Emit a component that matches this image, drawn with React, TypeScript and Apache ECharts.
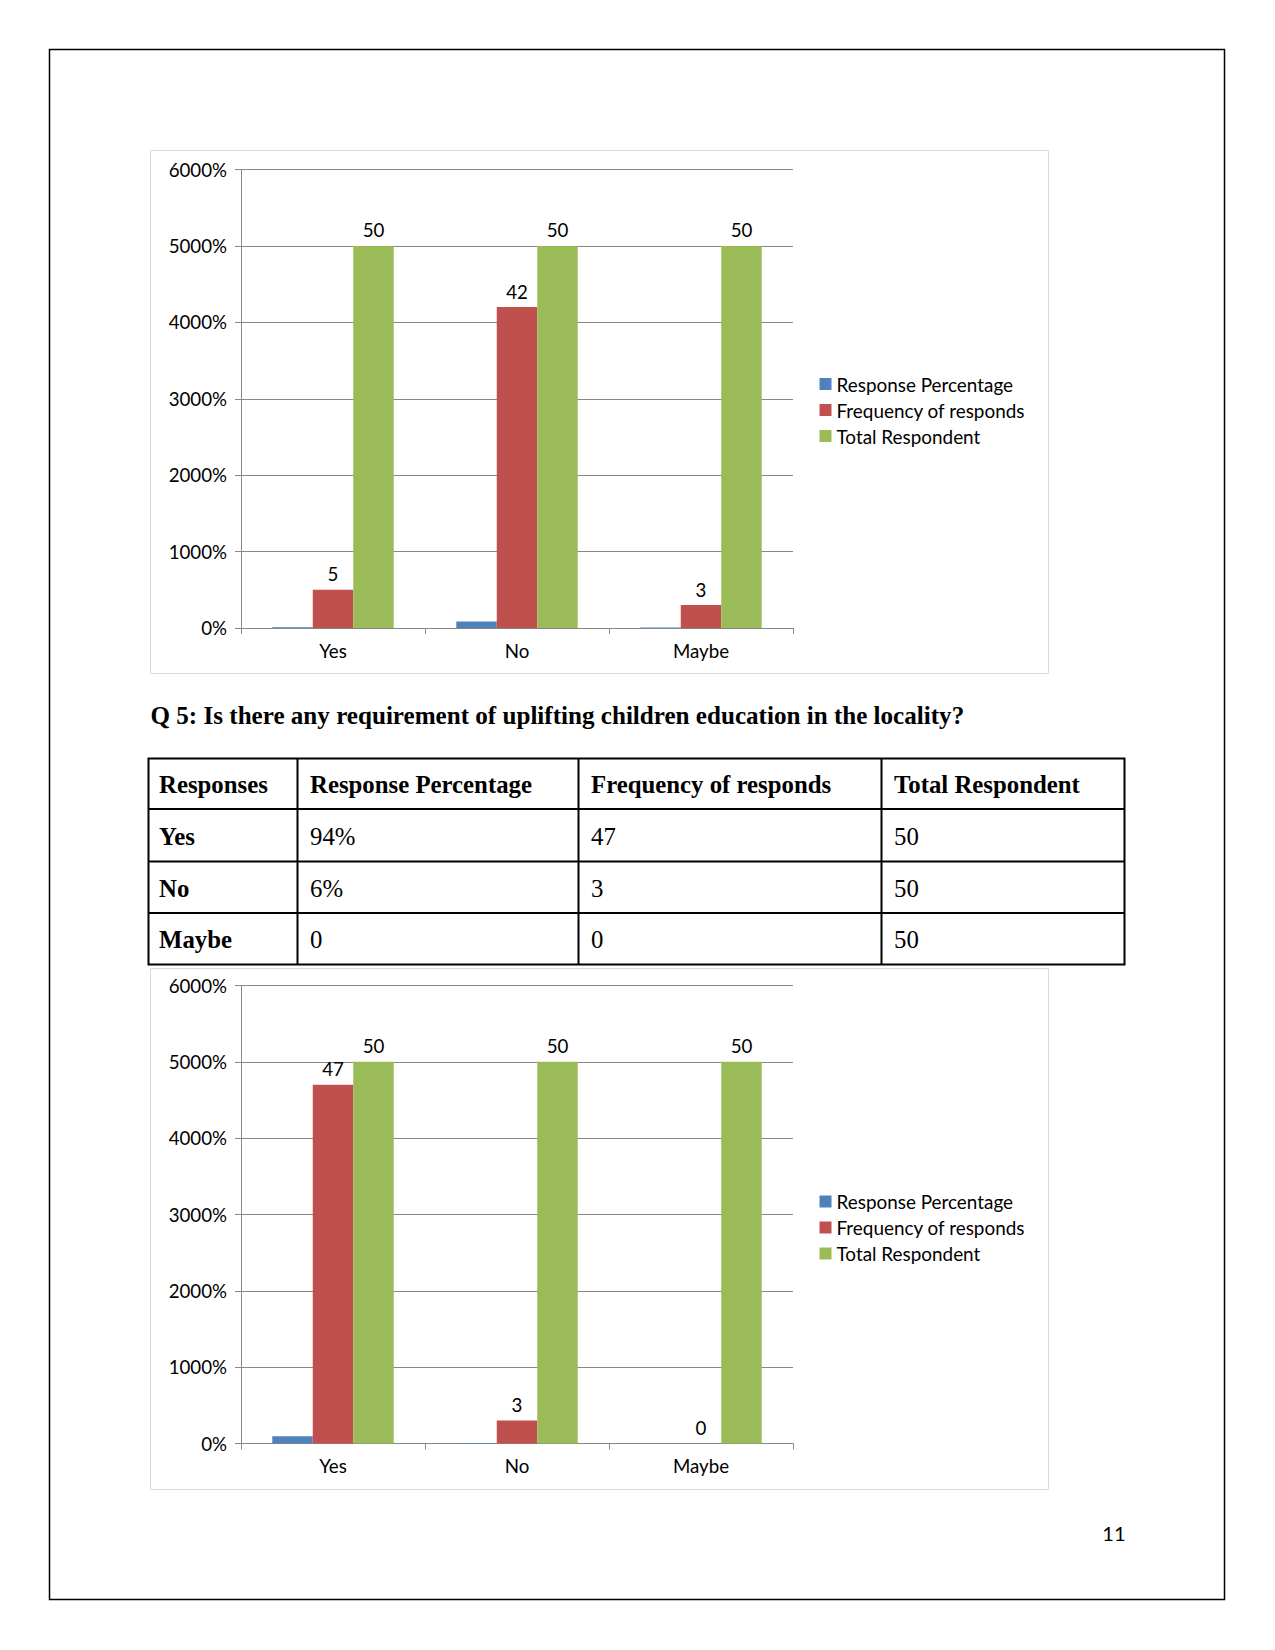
import React, { useEffect, useRef } from "react";
import * as echarts from "echarts";

const categories = ["Yes", "No", "Maybe"];
const seriesNames = ["Response Percentage", "Frequency of responds", "Total Respondent"];

// Chart 1 (previous question)
const q4Percentage = [0.1, 0.84, 0.06];
const q4Frequency = [5, 42, 3];
const q4Total = [50, 50, 50];

// Chart 2 (Q5)
const q5Percentage = [0.94, 0.06, 0];
const q5Frequency = [47, 3, 0];
const q5Total = [50, 50, 50];

const yMin = 0;
const yMax = 60;
const yInterval = 10;

const questionTitle = "Q 5: Is there any requirement of uplifting children education in the locality?";
const tableHeaders = ["Responses", "Response Percentage", "Frequency of responds", "Total Respondent"];
const tableRows = [
  ["Yes", "94%", "47", "50"],
  ["No", "6%", "3", "50"],
  ["Maybe", "0", "0", "50"],
];
const pageNumber = "11";

const COLORS = ["#4F81BD", "#C0504D", "#9BBB59"];
const AXIS_GRAY = "#878787";
const FONT = "Lato";
const FS = 18.7;

export default function App() {
  const ref = useRef<HTMLDivElement>(null);

  useEffect(() => {
    if (!ref.current) return;
    const chart = echarts.init(ref.current, null, { renderer: "svg" });

    const grids = [
      { left: 241, top: 169.5, width: 552, height: 458.5 },
      { left: 241, top: 985.5, width: 552, height: 458 },
    ];

    const xAxes = grids.map((_, i) => ({
      type: "category",
      gridIndex: i,
      data: categories,
      axisLine: { lineStyle: { color: AXIS_GRAY, width: 1 } },
      axisTick: { show: true, length: 6, lineStyle: { color: AXIS_GRAY } },
      axisLabel: { color: "#000", fontFamily: FONT, fontSize: FS, margin: 13 },
      splitLine: { show: false },
    }));

    const yAxes = grids.map((_, i) => ({
      type: "value",
      gridIndex: i,
      min: yMin,
      max: yMax,
      interval: yInterval,
      axisLine: { show: true, lineStyle: { color: AXIS_GRAY, width: 1 } },
      axisTick: { show: true, length: 6, lineStyle: { color: AXIS_GRAY } },
      splitLine: { show: true, lineStyle: { color: AXIS_GRAY, width: 1 } },
      axisLabel: {
        color: "#000",
        fontFamily: FONT,
        fontSize: FS,
        margin: 14,
        formatter: (v: number) => Math.round(v * 100) + "%",
      },
    }));

    const datasets = [
      [q4Percentage, q4Frequency, q4Total],
      [q5Percentage, q5Frequency, q5Total],
    ];

    const series: any[] = [];
    datasets.forEach((set, gi) => {
      set.forEach((vals, si) => {
        series.push({
          type: "bar",
          name: seriesNames[si],
          xAxisIndex: gi,
          yAxisIndex: gi,
          data: vals,
          barGap: "0%",
          barCategoryGap: "34%",
          itemStyle: { color: COLORS[si] },
          label: {
            show: si > 0,
            position: "top",
            distance: 6,
            color: "#000",
            fontFamily: FONT,
            fontSize: FS,
          },
        });
      });
    });

    const legends = [369.5, 1187].map((top) => ({
      orient: "vertical",
      left: 814.5,
      top,
      itemWidth: 12,
      itemHeight: 12,
      itemGap: 7,
      icon: "rect",
      data: seriesNames,
      textStyle: { color: "#000", fontFamily: FONT, fontSize: 18.9 },
    }));

    // Table geometry
    const tLeft = 148.5;
    const tRight = 1124.5;
    const rowYs = [758.5, 809, 861.5, 913, 964.5];
    const colXs = [148.5, 297.5, 578.5, 881.5];
    const textPad = [10.5, 12.5, 12.5, 12.5];
    const serif = "Liberation Serif";
    const TFS = 24.8;

    const graphic: any[] = [];
    // Page border
    graphic.push({
      type: "rect",
      shape: { x: 49.5, y: 49.5, width: 1175, height: 1550 },
      style: { fill: "none", stroke: "#000", lineWidth: 1.5 },
      silent: true,
      z: -10,
    });
    // Chart frames
    graphic.push({
      type: "rect",
      shape: { x: 150.5, y: 150.5, width: 898, height: 523 },
      style: { fill: "none", stroke: "#d9d9d9", lineWidth: 1 },
      silent: true,
      z: -10,
    });
    graphic.push({
      type: "rect",
      shape: { x: 150.5, y: 968.5, width: 898, height: 521 },
      style: { fill: "none", stroke: "#d9d9d9", lineWidth: 1 },
      silent: true,
      z: -10,
    });
    // Title
    graphic.push({
      type: "text",
      x: 150.5,
      y: 715,
      style: {
        text: questionTitle,
        fill: "#000",
        font: `bold 25.1px "${serif}"`,
        textAlign: "left",
        textVerticalAlign: "middle",
      },
    });
    // Table lines
    graphic.push({
      type: "rect",
      shape: { x: tLeft, y: rowYs[0], width: tRight - tLeft, height: rowYs[4] - rowYs[0] },
      style: { fill: "none", stroke: "#000", lineWidth: 2 },
      silent: true,
    });
    for (let r = 1; r < 4; r++) {
      graphic.push({
        type: "line",
        shape: { x1: tLeft, y1: rowYs[r], x2: tRight, y2: rowYs[r] },
        style: { stroke: "#000", lineWidth: 2 },
        silent: true,
      });
    }
    for (let c = 1; c < 4; c++) {
      graphic.push({
        type: "line",
        shape: { x1: colXs[c], y1: rowYs[0], x2: colXs[c], y2: rowYs[4] },
        style: { stroke: "#000", lineWidth: 2 },
        silent: true,
      });
    }
    const allRows = [tableHeaders, ...tableRows];
    allRows.forEach((row, r) => {
      const cy = (rowYs[r] + rowYs[r + 1]) / 2 + 1;
      row.forEach((txt, c) => {
        const bold = r === 0 || c === 0;
        graphic.push({
          type: "text",
          x: colXs[c] + textPad[c],
          y: cy,
          style: {
            text: txt,
            fill: "#000",
            font: `${bold ? "bold " : ""}${TFS}px "${serif}"`,
            textAlign: "left",
            textVerticalAlign: "middle",
          },
        });
      });
    });
    // Page number
    graphic.push({
      type: "text",
      x: 1125.5,
      y: 1533,
      style: {
        text: pageNumber,
        fill: "#000",
        font: `20px ${FONT}`,
        textAlign: "right",
        textVerticalAlign: "middle",
      },
    });

    chart.setOption({
      animation: false,
      backgroundColor: "#fff",
      textStyle: { fontFamily: FONT },
      grid: grids,
      xAxis: xAxes,
      yAxis: yAxes,
      legend: legends,
      series,
      graphic,
    });

    return () => chart.dispose();
  }, []);

  return (
    <div
      ref={ref}
      style={{ position: "absolute", left: 0, top: 0, width: 1275, height: 1650, background: "#fff" }}
    />
  );
}
